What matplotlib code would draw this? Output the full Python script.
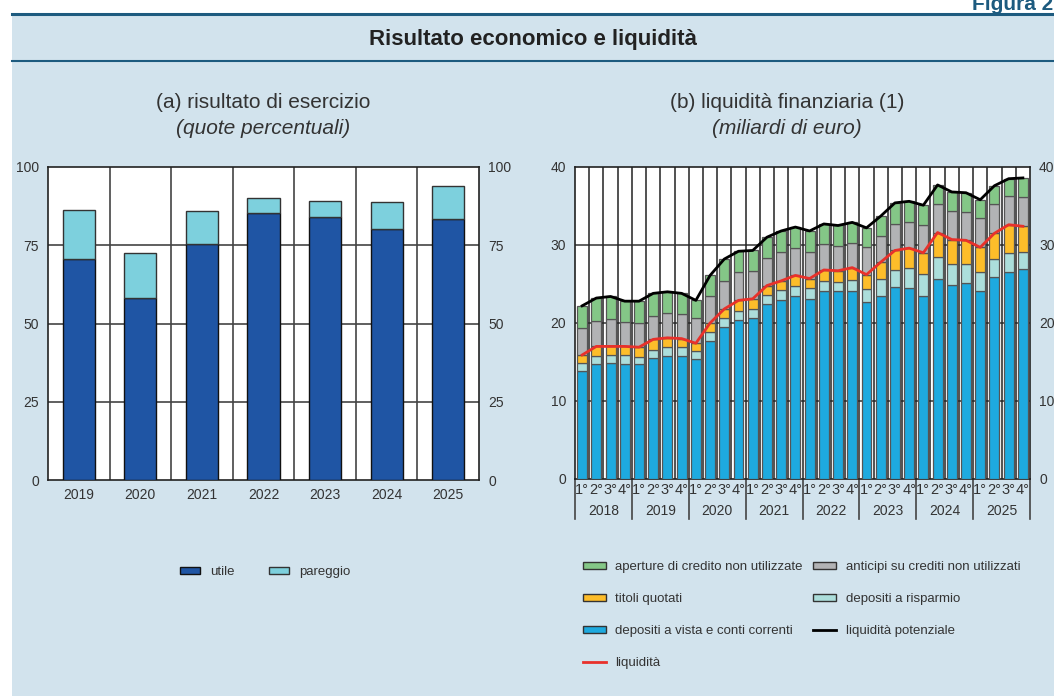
from matplotlib import pyplot as plt
from matplotlib.patches import Rectangle, Patch
from matplotlib.lines import Line2D
import numpy as np

plt.rcParams['font.family'] = ['Liberation Sans', 'DejaVu Sans']

# ---------------- data ----------------
# (a) risultato di esercizio
anni = ["2019", "2020", "2021", "2022", "2023", "2024", "2025"]
utile = [70.6, 58.1, 75.3, 85.2, 84.0, 80.3, 83.4]
pareggio = [15.6, 14.4, 10.7, 4.8, 5.2, 8.4, 10.4]

# (b) liquidita finanziaria, quarterly 2018-2025
anni_b = ["2018", "2019", "2020", "2021", "2022", "2023", "2024", "2025"]
trimestri = ["1°", "2°", "3°", "4°"]
dep_vista = [13.9, 14.8, 14.9, 14.8, 14.7, 15.5, 15.8, 15.8,
             15.4, 17.7, 19.5, 20.4, 20.6, 22.4, 22.9, 23.5,
             23.1, 24.1, 24.1, 24.1, 22.7, 23.5, 24.6, 24.5,
             23.5, 25.7, 24.9, 25.1, 24.1, 25.9, 26.5, 26.9]
dep_risparmio = [1.0, 1.0, 1.0, 1.1, 0.9, 1.1, 1.1, 1.1,
                 1.0, 1.1, 1.1, 1.2, 1.2, 1.2, 1.3, 1.3,
                 1.4, 1.3, 1.2, 1.4, 1.6, 2.1, 2.2, 2.5,
                 2.8, 2.7, 2.7, 2.4, 2.5, 2.3, 2.5, 2.2]
titoli = [1.0, 1.2, 1.1, 1.1, 1.3, 1.3, 1.2, 1.1,
          1.0, 1.2, 1.2, 1.3, 1.3, 1.2, 1.2, 1.3,
          1.2, 1.4, 1.4, 1.6, 1.9, 2.2, 2.5, 2.6,
          2.7, 3.2, 3.1, 3.1, 3.1, 3.3, 3.6, 3.3]
anticipi = [3.5, 3.2, 3.5, 3.1, 3.1, 3.0, 3.2, 3.1,
            3.2, 3.5, 3.6, 3.6, 3.6, 3.5, 3.7, 3.5,
            3.4, 3.3, 3.2, 3.2, 3.5, 3.4, 3.4, 3.4,
            3.6, 3.6, 3.7, 3.6, 3.8, 3.8, 3.7, 3.8]
aperture = [2.8, 3.0, 2.9, 2.7, 2.8, 2.9, 2.7, 2.7,
            2.3, 2.6, 2.8, 2.7, 2.6, 2.7, 2.7, 2.7,
            2.7, 2.6, 2.6, 2.6, 2.5, 2.5, 2.7, 2.6,
            2.5, 2.5, 2.4, 2.5, 2.3, 2.3, 2.2, 2.4]

# ---------------- colours ----------------
c_bg = "#d2e3ed"
c_head = "#1d5b7f"
c_utile = "#1f55a4"
c_pareggio = "#7dd0dd"
c_vista = "#1eaadf"
c_risp = "#acdedb"
c_titoli = "#fdbd2a"
c_anticipi = "#b2b3b5"
c_aperture = "#84c787"
c_red = "#e8312b"
c_text = "#333333"

fig = plt.figure(figsize=(10.54, 6.96), dpi=100)
fig.patch.set_facecolor("white")

W, H = 1054, 696
# background panel and header lines
fig.patches.append(Rectangle((12 / W, 0), 1, 1 - 14 / H, transform=fig.transFigure,
                             facecolor=c_bg, edgecolor="none", zorder=-10))
fig.add_artist(Line2D([12 / W, 1], [1 - 14 / H, 1 - 14 / H], color=c_head, lw=2.2))
fig.add_artist(Line2D([12 / W, 1], [1 - 61 / H, 1 - 61 / H], color=c_head, lw=1.5))

fig.text(972 / W, 1 - 10 / H, "Figura 2", color=c_head, fontsize=15, fontweight="bold",
         ha="left", va="baseline")
fig.text(0.5 + 6 / W, 1 - 39 / H, "Risultato economico e liquidità", fontsize=16,
         fontweight="bold", color="#222222", ha="center", va="center")

fig.text(263 / W, 1 - 103 / H, "(a) risultato di esercizio", fontsize=15, color=c_text,
         ha="center", va="center")
fig.text(263 / W, 1 - 128 / H, "(quote percentuali)", fontsize=15, style="italic",
         color=c_text, ha="center", va="center")
fig.text(787 / W, 1 - 103 / H, "(b) liquidità finanziaria (1)", fontsize=15, color=c_text,
         ha="center", va="center")
fig.text(787 / W, 1 - 128 / H, "(miliardi di euro)", fontsize=15, style="italic",
         color=c_text, ha="center", va="center")

# ---------------- (a) left panel ----------------
ax1 = fig.add_axes([48 / W, 1 - 480 / H, 431 / W, 313 / H])
x1 = np.arange(len(anni))
ax1.bar(x1, utile, width=0.52, color=c_utile, edgecolor="#111111", linewidth=1, zorder=3)
ax1.bar(x1, pareggio, bottom=utile, width=0.52, color=c_pareggio, edgecolor="#333333",
        linewidth=1, zorder=3)
ax1.set_xlim(-0.5, len(anni) - 0.5)
ax1.set_ylim(0, 100)
ax1.set_yticks([0, 25, 50, 75, 100])
ax1.set_xticks(x1)
ax1.set_xticklabels(anni)
for yv in [25, 50, 75]:
    ax1.axhline(yv, color="#444444", lw=1.2, zorder=1)
for xv in x1[:-1] + 0.5:
    ax1.axvline(xv, color="#444444", lw=1.2, zorder=1)
ax1.tick_params(axis="both", length=0, labelsize=10, colors=c_text, pad=6)
ax1.tick_params(axis="y", labelright=True, pad=6.5)
for s in ax1.spines.values():
    s.set_color("#222222")
    s.set_linewidth(1.2)

fig.legend(handles=[Patch(facecolor=c_utile, edgecolor="#111111", label="utile"),
                    Patch(facecolor=c_pareggio, edgecolor="#333333", label="pareggio")],
           loc="center left", bbox_to_anchor=(180 / W, 1 - 572 / H), ncol=2,
           frameon=False, fontsize=9.5, handlelength=1.5, handleheight=0.5,
           handletextpad=0.8, columnspacing=2.6, borderpad=0, borderaxespad=0,
           labelcolor=c_text)

# ---------------- (b) right panel ----------------
ax2 = fig.add_axes([575 / W, 1 - 479 / H, 455 / W, 312 / H])
n = len(dep_vista)
x2 = np.arange(n)
layers = [(dep_vista, c_vista), (dep_risparmio, c_risp), (titoli, c_titoli),
          (anticipi, c_anticipi), (aperture, c_aperture)]
bottom = np.zeros(n)
for vals, col in layers:
    ax2.bar(x2, vals, bottom=bottom, width=0.7, color=col, edgecolor="#555555",
            linewidth=0.9, zorder=3)
    bottom = bottom + np.array(vals)

liquidita = np.array(dep_vista) + np.array(dep_risparmio) + np.array(titoli)
potenziale = bottom
ax2.plot(x2, potenziale, color="black", lw=2, zorder=5, solid_joinstyle="round")
ax2.plot(x2, liquidita, color=c_red, lw=2, zorder=5, solid_joinstyle="round")

ax2.set_xlim(-0.5, n - 0.5)
ax2.set_ylim(0, 40)
ax2.set_yticks([0, 10, 20, 30, 40])
ax2.set_xticks(x2)
ax2.set_xticklabels(trimestri * len(anni_b))
for yv in [10, 20, 30]:
    ax2.axhline(yv, color="#444444", lw=1.2, zorder=1)
for xv in x2[:-1] + 0.5:
    ax2.axvline(xv, color="#222222", lw=1.1, zorder=1)
ax2.tick_params(axis="both", length=0, labelsize=10, colors=c_text)
ax2.tick_params(axis="x", pad=3, labelsize=10.5)
ax2.tick_params(axis="y", labelright=True, pad=6.5)
for s in ax2.spines.values():
    s.set_color("#222222")
    s.set_linewidth(1.2)

# year labels and separators below the quarters
tr = ax2.get_xaxis_transform()
for i, a in enumerate(anni_b):
    ax2.text(i * 4 + 1.5, -0.103, a, transform=tr, ha="center", va="center",
             fontsize=10, color=c_text)
for i in range(len(anni_b) + 1):
    ax2.plot([i * 4 - 0.5, i * 4 - 0.5], [0, -0.128], transform=tr, color="#444444",
             lw=1.2, clip_on=False)

handles_b = [Patch(facecolor=c_aperture, edgecolor="#333333", label="aperture di credito non utilizzate"),
             Patch(facecolor=c_titoli, edgecolor="#333333", label="titoli quotati"),
             Patch(facecolor=c_vista, edgecolor="#333333", label="depositi a vista e conti correnti"),
             Line2D([], [], color=c_red, lw=2, label="liquidità"),
             Patch(facecolor=c_anticipi, edgecolor="#333333", label="anticipi su crediti non utilizzati"),
             Patch(facecolor=c_risp, edgecolor="#333333", label="depositi a risparmio"),
             Line2D([], [], color="black", lw=2, label="liquidità potenziale")]
fig.legend(handles=handles_b, loc="upper left", bbox_to_anchor=(583 / W, 1 - 561 / H),
           ncol=2, frameon=False, fontsize=9.5, handlelength=1.75, handleheight=0.5,
           handletextpad=0.7, columnspacing=0.8, labelspacing=1.52, borderpad=0,
           borderaxespad=0, labelcolor=c_text)

plt.savefig("out.png", dpi=100, facecolor=fig.get_facecolor())
